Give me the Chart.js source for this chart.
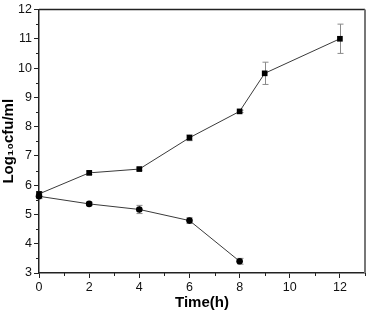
<!DOCTYPE html>
<html>
<head>
<meta charset="utf-8">
<script src="https://cdn.jsdelivr.net/npm/chart.js@4/dist/chart.umd.min.js"></script>
<style>
  html, body { margin: 0; padding: 0; background: #fff; }
  #wrap { width: 369px; height: 313px; }
</style>
</head>
<body>
<div id="wrap"><canvas id="myChart" width="369" height="313"></canvas></div>
<script>
// time points (h)
var timeA = [0, 2, 4, 6, 8, 9, 12];
var logA = [5.70, 6.42, 6.55, 7.62, 8.52, 9.82, 11.00];
var errA = [0.08, 0.06, 0.04, 0.10, 0.04, 0.38, 0.50];

var timeB = [0, 2, 4, 6, 8];
var logB = [5.62, 5.36, 5.17, 4.79, 3.40];
var errB = [0.08, 0.06, 0.14, 0.10, 0.10];

var xTicks = [0, 2, 4, 6, 8, 10, 12];
var yTicks = [3, 4, 5, 6, 7, 8, 9, 10, 11, 12];

function pts(xs, ys) {
	var out = [];
	for (var i = 0; i < xs.length; i++) out.push({x: xs[i], y: ys[i]});
	return out;
}

// error bars + minor ticks + frame
var extras = {
	id: 'extras',
	beforeDatasetsDraw: function(chart) {
		var c = chart.ctx, a = chart.chartArea, xs = chart.scales.x, ys = chart.scales.y;
		c.save();
		c.strokeStyle = '#222';
		c.lineWidth = 1;
		c.beginPath();
		for (var v = 1; v <= 13; v += 2) {
			var px = Math.round(xs.getPixelForValue(v)) + 0.5;
			c.moveTo(px, a.bottom); c.lineTo(px, a.bottom + 3);
		}
		for (var w = 3.5; w < 12; w += 1) {
			var py = Math.round(ys.getPixelForValue(w)) + 0.5;
			c.moveTo(a.left, py); c.lineTo(a.left - 3, py);
		}
		c.stroke();
		// top and right frame
		c.lineWidth = 1.5;
		c.strokeStyle = '#222';
		c.beginPath();
		c.moveTo(a.left, a.top); c.lineTo(a.right, a.top);
		c.stroke();
		c.strokeStyle = '#777';
		c.lineWidth = 2;
		c.beginPath();
		c.moveTo(a.right, a.top); c.lineTo(a.right, a.bottom);
		c.stroke();

		// error bars, behind the markers
		var sets = [[timeA, logA, errA], [timeB, logB, errB]];
		c.strokeStyle = '#8a8a8a';
		c.lineWidth = 1;
		sets.forEach(function(s) {
			for (var i = 0; i < s[0].length; i++) {
				var px = Math.round(xs.getPixelForValue(s[0][i])) + 0.5;
				var top = ys.getPixelForValue(s[1][i] + s[2][i]);
				var bot = ys.getPixelForValue(s[1][i] - s[2][i]);
				c.beginPath();
				c.moveTo(px, top); c.lineTo(px, bot);
				c.moveTo(px - 3, top); c.lineTo(px + 3, top);
				c.moveTo(px - 3, bot); c.lineTo(px + 3, bot);
				c.stroke();
			}
		});
		c.restore();
	}
};

var ctx = document.getElementById('myChart').getContext('2d');
var chart = new Chart(ctx, {
	type: 'line',
	data: {
		datasets: [{
			label: 'A',
			data: pts(timeA, logA),
			borderColor: '#3a3a3a',
			borderWidth: 1,
			pointStyle: 'rect',
			pointRadius: 4,
			pointBackgroundColor: '#000',
			pointBorderColor: '#000',
			pointBorderWidth: 0,
			clip: false,
			fill: false
		}, {
			label: 'B',
			data: pts(timeB, logB),
			borderColor: '#3a3a3a',
			borderWidth: 1,
			pointStyle: 'circle',
			pointRadius: 3.3,
			pointBackgroundColor: '#000',
			pointBorderColor: '#000',
			pointBorderWidth: 0,
			clip: false,
			fill: false
		}]
	},
	options: {
		responsive: false,
		animation: false,
		layout: { padding: { top: 6, right: 4, left: 0, bottom: 0 } },
		plugins: { legend: { display: false }, tooltip: { enabled: false } },
		scales: {
			x: {
				type: 'linear', min: 0, max: 13,
				afterBuildTicks: function(s) { s.ticks = xTicks.map(function(v) { return {value: v}; }); },
				afterFit: function(s) { s.height = 40; },
				border: { color: '#222', width: 1.5 },
				grid: { drawOnChartArea: false, tickLength: 5, color: '#222' },
				ticks: { color: '#111', padding: 2, font: { family: 'Liberation Sans', size: 12.5 } },
				title: { display: true, text: 'Time(h)', color: '#000', padding: {top: 0, bottom: 1},
					font: { family: 'Liberation Sans', size: 15, weight: 'bold' } }
			},
			y: {
				type: 'linear', min: 3, max: 12,
				afterBuildTicks: function(s) { s.ticks = yTicks.map(function(v) { return {value: v}; }); },
				afterFit: function(s) { s.width = 39; },
				border: { color: '#222', width: 1.5 },
				grid: { drawOnChartArea: false, tickLength: 5, color: '#222' },
				ticks: { color: '#111', padding: 2, font: { family: 'Liberation Sans', size: 12.5 } },
				title: { display: true, text: 'Log\u2081\u2080cfu/ml', color: '#000', padding: {top: 0, bottom: 0},
					font: { family: 'Liberation Sans', size: 15, weight: 'bold' } }
			}
		}
	},
	plugins: [extras]
});
</script>
</body>
</html>
